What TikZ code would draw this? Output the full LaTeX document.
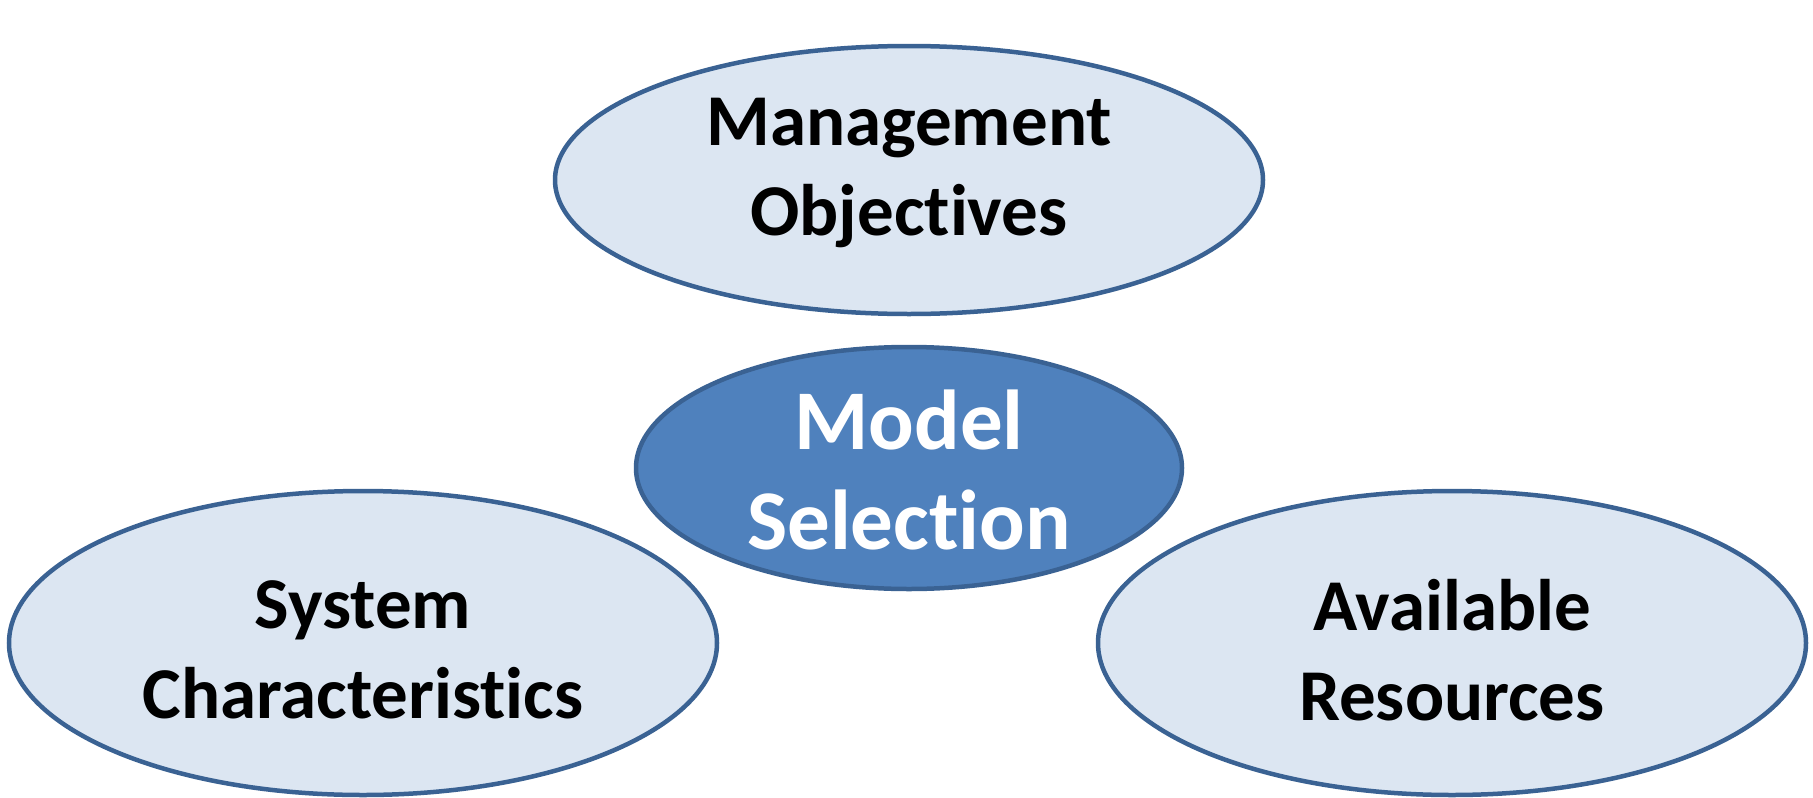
\documentclass[tikz,border=0pt]{standalone}
\usepackage{fontspec}
\setmainfont{Carlito}[Ligatures={NoCommon,NoContextual}]
\usetikzlibrary{shapes.geometric}
\definecolor{paleblue}{HTML}{DCE6F2}
\definecolor{midblue}{HTML}{4F81BD}
\definecolor{edgeblue}{HTML}{3A6293}
\tikzset{
  oval/.style={ellipse, draw=edgeblue, line width=4.5pt, inner sep=0pt},
  outer/.style={oval, fill=paleblue},
  core/.style={oval, fill=midblue},
  caption/.style={align=center, font=\bfseries\fontsize{73}{90}\selectfont, text=black},
  corecaption/.style={caption, text=white, font=\bfseries\fontsize{85}{100}\selectfont}
}
\begin{document}
\begin{tikzpicture}[x=1pt,y=-1pt]
  \useasboundingbox (0,0) rectangle (1813,798);
  % the four ovals
  \node[outer, minimum width=708pt, minimum height=268pt] (mgmt) at (909,180) {};
  \node[core,  minimum width=546pt, minimum height=242pt] (model) at (909,468) {};
  \node[outer, minimum width=708pt, minimum height=304pt] (sys) at (363,643) {};
  \node[outer, minimum width=708pt, minimum height=304pt] (res) at (1452,643) {};
  % their labels
  \node[caption] (mgmtt) at (909,173) {Management\\Objectives};
  \node[corecaption] (modelt) at (909,470) {Model\\Selection};
  \node[caption] (syst) at (363,650) {System\\Characteristics};
  \node[caption] (rest) at (1452,650) {Available\\Resources};
\end{tikzpicture}
\end{document}
